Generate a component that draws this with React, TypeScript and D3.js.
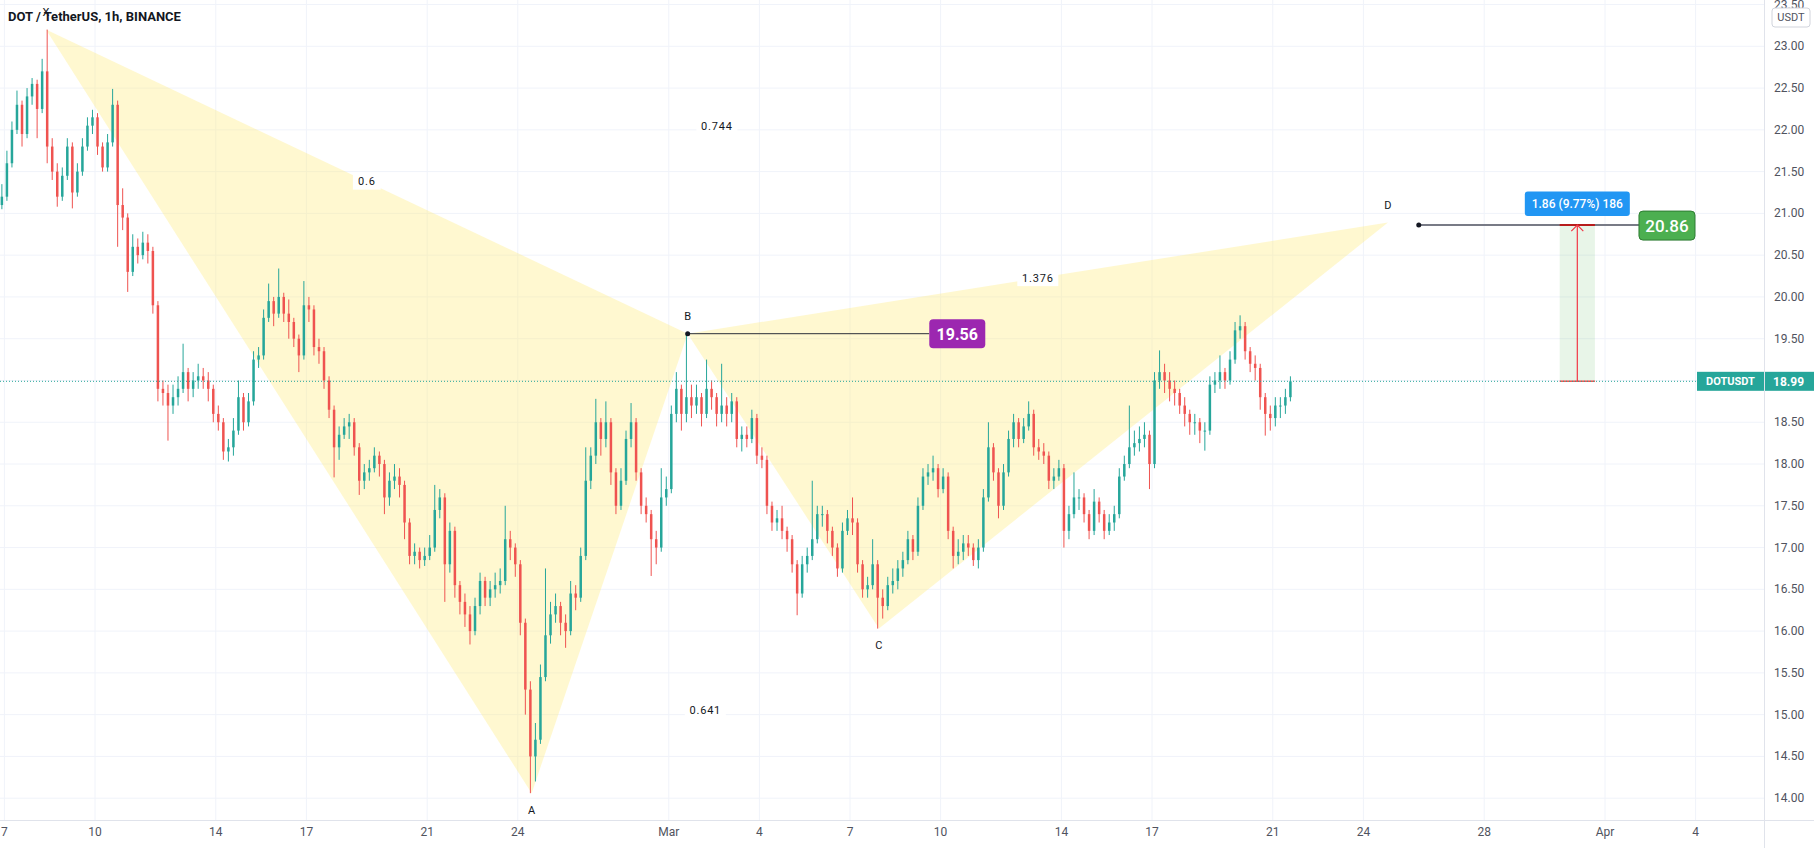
import React, { useEffect } from 'react';
import * as d3 from 'd3';

const W = 1814;
const H = 848;

// ---- data (4h candles) ----
const candleStart = '2021-02-06T20:00:00Z';
const candleHours = 4;
const firstOpen = 21.1;
const closes = [
  21.2,21.6,22.0,22.3,21.95,22.4,22.55,22.25,22.7,21.8,
  21.5,21.2,21.45,21.8,21.25,21.5,21.8,22.05,22.15,21.8,
  21.55,21.85,22.3,21.1,20.95,20.3,20.6,20.5,20.65,20.55,
  19.9,18.9,18.85,18.7,18.8,18.9,19.1,18.9,19.0,19.05,
  19.0,18.9,18.6,18.5,18.15,18.2,18.4,18.8,18.5,18.75,
  19.25,19.3,19.75,19.95,19.8,20.0,19.8,19.7,19.5,19.3,
  19.9,19.85,19.4,19.35,19.0,18.65,18.2,18.35,18.45,18.5,
  18.2,17.8,17.9,17.95,18.1,18.0,17.6,17.8,17.85,17.75,
  17.3,16.9,16.95,16.85,16.9,17.0,17.45,17.6,16.8,17.2,
  16.55,16.35,16.2,16.0,16.3,16.6,16.4,16.5,16.55,16.6,
  17.1,17.0,16.8,16.1,15.3,14.5,14.7,15.45,15.95,16.2,
  16.3,16.1,16.0,16.45,16.4,16.9,17.8,18.1,18.5,18.3,
  18.5,17.9,17.5,17.8,18.3,18.5,17.9,17.5,17.4,17.1,
  17.0,17.6,17.7,18.6,18.9,18.6,18.8,18.7,18.8,18.6,
  18.9,18.8,18.6,18.7,18.6,18.75,18.3,18.35,18.3,18.55,
  18.1,18.05,17.5,17.3,17.35,17.2,17.1,16.8,16.45,16.8,
  16.9,17.1,17.4,17.4,17.2,17.0,16.75,17.2,17.35,17.3,
  16.8,16.5,16.55,16.8,16.4,16.3,16.55,16.6,16.75,16.85,
  17.1,16.95,17.5,17.85,17.9,17.95,17.7,17.85,17.2,16.9,
  16.95,17.05,17.0,16.85,17.0,17.6,18.2,17.9,17.5,17.9,
  18.3,18.5,18.3,18.45,18.6,18.2,18.15,18.1,17.8,17.85,
  17.95,17.2,17.4,17.6,17.6,17.4,17.2,17.55,17.4,17.2,
  17.3,17.4,17.85,18.0,18.2,18.25,18.3,18.35,18.0,19.0,
  19.1,19.0,18.9,18.85,18.7,18.6,18.5,18.5,18.4,18.4,
  18.95,19.0,19.1,19.0,19.25,19.6,19.65,19.35,19.2,19.15,
  18.8,18.6,18.55,18.7,18.7,18.8,18.99,
];
const highs = [
  21.35,21.75,22.1,22.47,22.35,22.5,22.62,22.6,22.85,23.2,
  21.9,21.6,21.55,21.9,21.85,21.6,21.9,22.15,22.24,22.2,
  21.85,21.95,22.49,22.35,21.3,21.0,20.75,20.7,20.78,20.75,
  20.6,19.95,19.0,18.95,18.95,19.05,19.44,19.15,19.1,19.2,
  19.15,19.1,18.95,18.7,18.55,18.3,18.55,19.0,18.85,18.85,
  19.35,19.4,19.85,20.16,20.0,20.34,20.05,19.97,19.75,19.55,
  20.19,20.0,19.9,19.5,19.4,19.05,18.7,18.45,18.55,18.6,
  18.55,18.25,18.0,18.05,18.2,18.15,18.05,17.9,18.0,17.95,
  17.8,17.35,17.05,17.0,17.0,17.15,17.75,17.7,17.65,17.3,
  17.25,16.6,16.45,16.3,16.4,16.7,16.65,16.6,16.7,16.75,
  17.5,17.2,17.05,16.85,16.15,15.4,14.9,15.6,16.75,16.35,
  16.45,16.35,16.2,16.6,16.55,17.0,18.2,18.2,18.78,18.55,
  18.75,18.55,17.95,17.95,18.4,18.73,18.55,17.95,17.6,17.45,
  17.2,17.95,17.85,18.7,19.1,18.95,19.56,18.95,18.95,18.85,
  19.25,19.0,18.85,19.2,18.8,18.85,18.8,18.45,18.45,18.65,
  18.6,18.2,18.1,17.55,17.45,17.5,17.25,17.15,16.85,16.9,
  17.0,17.8,17.5,17.5,17.45,17.25,17.05,17.3,17.45,17.6,
  17.35,16.85,16.65,17.1,16.85,16.5,16.65,16.75,16.85,16.95,
  17.2,17.15,17.6,17.95,18.0,18.1,18.0,17.95,17.9,17.25,
  17.1,17.15,17.15,17.05,17.1,17.7,18.5,18.25,17.95,18.0,
  18.4,18.6,18.55,18.55,18.75,18.65,18.3,18.25,18.15,17.95,
  18.05,18.0,17.5,17.9,17.7,17.65,17.45,17.7,17.6,17.45,
  17.4,17.5,17.95,18.1,18.7,18.4,18.45,18.5,18.4,19.1,
  19.36,19.2,19.1,19.0,18.9,18.8,18.65,18.6,18.55,18.5,
  19.05,19.1,19.3,19.15,19.35,19.7,19.78,19.7,19.4,19.3,
  19.2,18.85,18.7,18.8,18.8,18.9,19.05,
];
const lows = [
  21.05,21.15,21.55,21.95,21.8,21.9,22.3,21.9,22.2,21.6,
  21.4,21.08,21.15,21.4,21.06,21.2,21.45,21.75,21.95,21.7,
  21.5,21.5,21.8,20.6,20.8,20.06,20.25,20.4,20.45,20.4,
  19.8,18.75,18.7,18.28,18.6,18.7,18.85,18.75,18.8,18.9,
  18.9,18.75,18.5,18.4,18.05,18.03,18.1,18.35,18.4,18.45,
  18.7,19.15,19.25,19.7,19.65,19.75,19.7,19.5,19.4,19.1,
  19.25,19.7,19.3,19.2,18.9,18.55,17.84,18.05,18.3,18.3,
  18.1,17.63,17.7,17.8,17.9,17.85,17.4,17.5,17.7,17.6,
  17.1,16.8,16.8,16.75,16.78,16.85,16.95,17.35,16.35,16.7,
  16.4,16.2,16.05,15.84,15.95,16.2,16.3,16.3,16.4,16.45,
  16.55,16.85,16.65,15.95,15.0,14.06,14.2,14.65,15.4,15.85,
  16.1,15.95,15.8,15.95,16.25,16.35,16.85,17.7,18.0,18.1,
  18.2,17.75,17.4,17.45,17.75,18.2,17.8,17.4,17.3,16.66,
  16.8,16.95,17.5,17.65,18.5,18.4,18.5,18.55,18.6,18.45,
  18.55,18.65,18.45,18.5,18.45,18.5,18.2,18.15,18.2,18.25,
  18.0,17.95,17.4,17.2,17.2,17.1,16.95,16.7,16.19,16.4,
  16.7,16.85,17.05,17.25,17.05,16.9,16.65,16.7,17.15,17.15,
  16.7,16.4,16.4,16.5,16.03,16.15,16.25,16.45,16.5,16.65,
  16.8,16.85,16.9,17.45,17.75,17.8,17.6,17.65,17.1,16.75,
  16.8,16.85,16.9,16.78,16.75,16.95,17.55,17.8,17.35,17.45,
  17.85,18.2,18.2,18.25,18.4,18.1,18.05,18.0,17.7,17.7,
  17.8,17.0,17.1,17.35,17.45,17.3,17.1,17.15,17.3,17.1,
  17.15,17.2,17.35,17.8,17.95,18.1,18.15,18.2,17.7,17.95,
  18.9,18.85,18.75,18.7,18.6,18.45,18.35,18.35,18.25,18.16,
  18.35,18.85,18.9,18.9,18.95,19.2,19.5,19.25,19.1,19.0,
  18.65,18.34,18.4,18.45,18.55,18.6,18.75,
];

const timeTickDates = [
  '2021-02-07','2021-02-10','2021-02-14','2021-02-17','2021-02-21','2021-02-24',
  '2021-03-01','2021-03-04','2021-03-07','2021-03-10','2021-03-14','2021-03-17',
  '2021-03-21','2021-03-24','2021-03-28','2021-04-01','2021-04-04',
];
const timeTickLabels = ['7','10','14','17','21','24','Mar','4','7','10','14','17','21','24','28','Apr','4'];
const priceTicks = [14,14.5,15,15.5,16,16.5,17,17.5,18,18.5,19,19.5,20,20.5,21,21.5,22,22.5,23,23.5];

const patternNames = ['X','A','B','C','D'];
const patternTimes = ['2021-02-08T09:00:00Z','2021-02-24T11:00:00Z','2021-03-01T15:00:00Z','2021-03-07T23:00:00Z','2021-03-24T19:30:00Z'];
const patternPrices = [23.2, 14.06, 19.56, 16.03, 20.89];
const patternAbove = [true, false, true, false, true];
const ratioTexts = ['0.6','0.744','0.641','1.376'];
const ratioFrom = [0, 0, 1, 2];
const ratioTo = [2, 4, 3, 4];

const symbolTitle = 'DOT / TetherUS, 1h, BINANCE';
const lastPrice = 18.99;
const lastPriceText = '18.99';
const tickerText = 'DOTUSDT';
const currencyText = 'USDT';

const bLineTimes = ['2021-03-01T15:00:00Z', '2021-03-09T15:00:00Z'];
const bLinePrice = 19.56;
const bLineText = '19.56';
const dLineTimes = ['2021-03-25T20:00:00Z', '2021-04-02T03:00:00Z'];
const dLinePrice = 20.86;
const dLineText = '20.86';

const rangeTimes = ['2021-03-30T12:00:00Z', '2021-03-31T16:00:00Z'];
const rangePrices = [18.99, 20.86];
const rangeText = '1.86 (9.77%) 186';

// ---- layout ----
const plotRight = 1764;
const plotBottom = 820;
const FONT = 'Roboto, "Liberation Sans", Arial, sans-serif';

const x = d3.scaleUtc()
  .domain([new Date('2021-02-07T00:00:00Z'), new Date('2021-03-21T00:00:00Z')])
  .range([4.4, 1272.8]);
const y = d3.scaleLinear().domain([14, 23]).range([798.2, 46.3]);

const UP = '#26a69a';
const DOWN = '#ef5350';
const PATTERN_FILL = 'rgb(255,235,120)';

export default function App() {
  useEffect(() => {
    document.body.style.margin = '0';
  }, []);

  const t0 = Date.parse(candleStart);
  const candles = closes.map((c, i) => {
    const o = i === 0 ? firstOpen : closes[i - 1];
    const t = new Date(t0 + (i * candleHours + candleHours / 2) * 3600e3);
    return { t, o, h: highs[i], l: lows[i], c };
  });

  const pts = patternNames.map((n, i) => ({
    name: n,
    px: x(new Date(patternTimes[i])),
    py: y(patternPrices[i]),
    above: patternAbove[i],
  }));

  const tri = (a: number, b: number, c: number) =>
    d3.line()([[pts[a].px, pts[a].py], [pts[b].px, pts[b].py], [pts[c].px, pts[c].py]]) + 'Z';

  const bx0 = x(new Date(bLineTimes[0]));
  const bx1 = x(new Date(bLineTimes[1]));
  const by = y(bLinePrice);
  const dx0 = x(new Date(dLineTimes[0]));
  const dx1 = x(new Date(dLineTimes[1]));
  const dy = y(dLinePrice);
  const rx0 = x(new Date(rangeTimes[0]));
  const rx1 = x(new Date(rangeTimes[1]));
  const rxm = (rx0 + rx1) / 2;
  const ryTop = y(rangePrices[1]);
  const ryBot = y(rangePrices[0]);
  const lastY = y(lastPrice);

  return (
    <svg width={W} height={H} style={{ display: 'block', background: '#fff' }} fontFamily={FONT}>
      <defs>
        <clipPath id="plot">
          <rect x={0} y={0} width={plotRight} height={plotBottom} />
        </clipPath>
      </defs>
      <rect x={0} y={0} width={W} height={H} fill="#fff" />
      <g clipPath="url(#plot)">
        {priceTicks.map((p) => (
          <line key={'gy' + p} x1={0} x2={plotRight} y1={y(p)} y2={y(p)} stroke="#f0f3fa" strokeWidth={1} />
        ))}
        {timeTickDates.map((d) => (
          <line key={'gx' + d} x1={x(new Date(d + 'T00:00:00Z'))} x2={x(new Date(d + 'T00:00:00Z'))} y1={0} y2={plotBottom} stroke="#f0f3fa" strokeWidth={1} />
        ))}
        <path d={tri(0, 1, 2)} fill={PATTERN_FILL} fillOpacity={0.35} />
        <path d={tri(2, 3, 4)} fill={PATTERN_FILL} fillOpacity={0.35} />
        {candles.map((k, i) => {
          const cx = x(k.t);
          const col = k.c >= k.o ? UP : DOWN;
          const top = y(Math.max(k.o, k.c));
          const bot = y(Math.min(k.o, k.c));
          return (
            <g key={'c' + i}>
              <line x1={cx} x2={cx} y1={y(k.h)} y2={y(k.l)} stroke={col} strokeWidth={1} />
              <rect x={cx - 1.25} y={top} width={2.5} height={Math.max(1, bot - top)} fill={col} />
            </g>
          );
        })}
        {ratioTexts.map((t, i) => {
          const a = pts[ratioFrom[i]];
          const b = pts[ratioTo[i]];
          const mx = (a.px + b.px) / 2;
          const my = (a.py + b.py) / 2;
          const w = t.length * 6.6 + 8;
          return (
            <g key={'r' + i}>
              <rect x={mx - w / 2} y={my - 8} width={w} height={16} fill="#fff" />
              <text x={mx} y={my} textAnchor="middle" dominantBaseline="central" fontSize={11} fill="#131722" letterSpacing={0.8}>{t}</text>
            </g>
          );
        })}
        {pts.map((p) => (
          <text key={'p' + p.name} x={p.px} y={p.above ? p.py - 17 : p.py + 17} textAnchor="middle" dominantBaseline="central" fontSize={11} fill="#131722">{p.name}</text>
        ))}
        {/* B level line */}
        <line x1={bx0} x2={bx1} y1={by} y2={by} stroke="#2a2e39" strokeWidth={1} />
        <circle cx={bx0} cy={by} r={2.5} fill="#131722" />
        <rect x={bx1} y={by - 14.5} width={56} height={29} rx={4} fill="#9c27b0" />
        <text x={bx1 + 28} y={by + 1} textAnchor="middle" dominantBaseline="central" fontSize={16} fontWeight={700} fill="#fff">{bLineText}</text>
        {/* D level line */}
        <line x1={dx0} x2={dx1} y1={dy} y2={dy} stroke="#787b86" strokeWidth={2} />
        <circle cx={dx0} cy={dy} r={2.5} fill="#131722" />
        {/* range tool */}
        <rect x={rx0} y={ryTop} width={rx1 - rx0} height={ryBot - ryTop} fill="#4caf50" fillOpacity={0.13} />
        <line x1={rx0} x2={rx1} y1={ryTop} y2={ryTop} stroke="#b71c1c" strokeWidth={2} />
        <line x1={rx0} x2={rx1} y1={ryBot} y2={ryBot} stroke={DOWN} strokeWidth={1.5} />
        <line x1={rxm} x2={rxm} y1={ryTop} y2={ryBot} stroke="#f23645" strokeWidth={1.2} />
        <path d={`M${rxm - 6},${ryTop + 6} L${rxm},${ryTop} L${rxm + 6},${ryTop + 6}`} fill="none" stroke="#f23645" strokeWidth={1.2} />
        <rect x={rxm - 52.5} y={ryTop - 33.5} width={105} height={24.5} rx={3} fill="#2196f3" />
        <text x={rxm} y={ryTop - 21} textAnchor="middle" dominantBaseline="central" fontSize={12} fontWeight={500} fill="#fff">{rangeText}</text>
        <rect x={dx1} y={dy - 14} width={56} height={29} rx={4} fill="#4caf50" stroke="#2e7d32" strokeWidth={1} />
        <text x={dx1 + 28} y={dy + 1} textAnchor="middle" dominantBaseline="central" fontSize={17} fontWeight={500} fill="#fff">{dLineText}</text>
        {/* last price line */}
        <line x1={0} x2={plotRight - 67} y1={lastY} y2={lastY} stroke={UP} strokeWidth={1} strokeDasharray="1 2" />
        <rect x={plotRight - 67} y={lastY - 9.5} width={67} height={19} fill={UP} />
        <text x={plotRight - 33.5} y={lastY + 0.5} textAnchor="middle" dominantBaseline="central" fontSize={11} fontWeight={700} fill="#fff">{tickerText}</text>
      </g>
      {/* title */}
      <text x={8} y={16} dominantBaseline="central" fontSize={13} fontWeight={700} fill="#131722">{symbolTitle}</text>
      {/* axes */}
      <line x1={plotRight + 0.5} x2={plotRight + 0.5} y1={0} y2={H} stroke="#e0e3eb" strokeWidth={1} />
      <line x1={0} x2={W} y1={plotBottom + 0.5} y2={plotBottom + 0.5} stroke="#e0e3eb" strokeWidth={1} />
      {priceTicks.map((p) => (
        <text key={'pl' + p} x={plotRight + 10} y={y(p)} dominantBaseline="central" fontSize={12} fill="#50535e">{p.toFixed(2)}</text>
      ))}
      <rect x={plotRight + 8} y={8} width={38} height={19} rx={3} fill="#fff" stroke="#d1d4dc" strokeWidth={1} />
      <text x={plotRight + 27} y={17.5} textAnchor="middle" dominantBaseline="central" fontSize={11} fill="#50535e">{currencyText}</text>
      <rect x={plotRight + 1} y={lastY - 9.5} width={W - plotRight - 1} height={19} fill={UP} />
      <text x={plotRight + 9} y={lastY + 0.5} dominantBaseline="central" fontSize={12} fontWeight={700} fill="#fff">{lastPriceText}</text>
      {timeTickDates.map((d, i) => (
        <text key={'tl' + d} x={x(new Date(d + 'T00:00:00Z'))} y={832} textAnchor="middle" dominantBaseline="central" fontSize={12} fill="#50535e">{timeTickLabels[i]}</text>
      ))}
    </svg>
  );
}
